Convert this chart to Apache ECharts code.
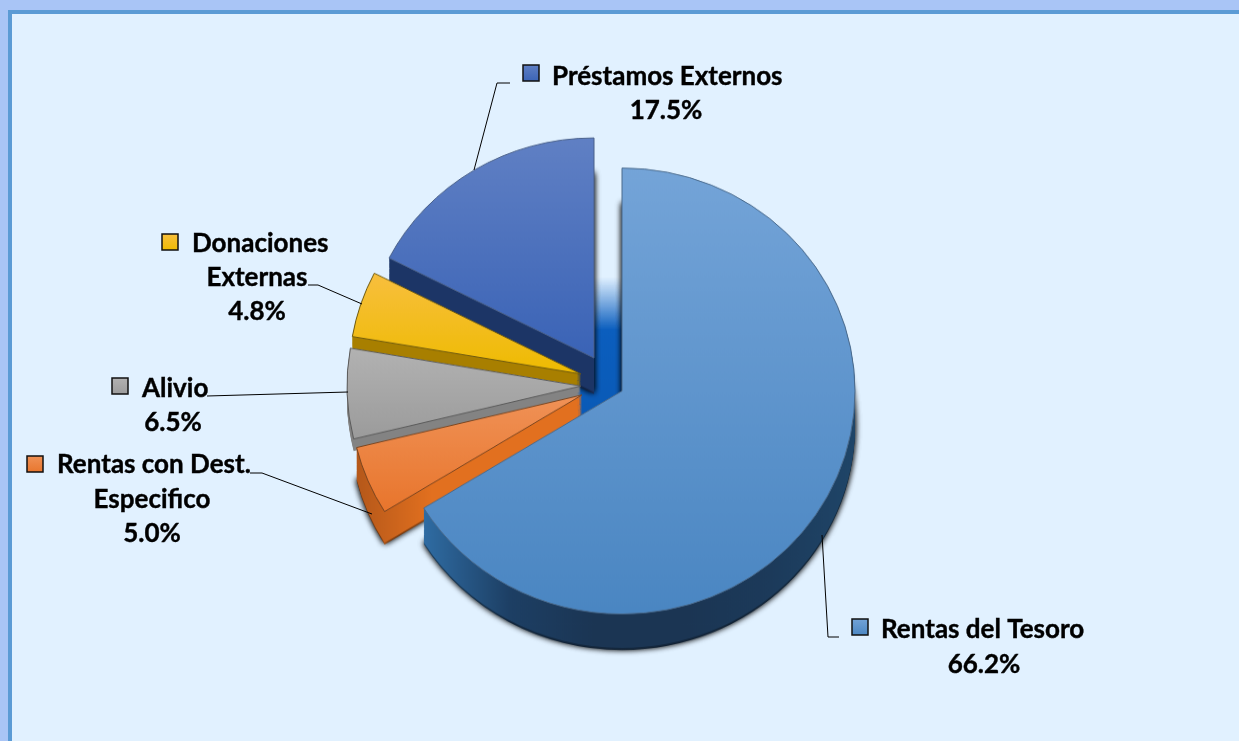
<!DOCTYPE html>
<html lang="es">

<head>
    <meta charset="UTF-8">
    <title>Fuentes de financiamiento</title>
    <style>
        * {
            margin: 0;
            padding: 0;
            box-sizing: border-box;
        }

        html,
        body {
            width: 1239px;
            height: 741px;
            overflow: hidden;
            background: #a9c5f6;
        }

        .panel {
            position: absolute;
            left: 8px;
            top: 10px;
            width: 1240px;
            height: 740px;
            background: #e1f1ff;
            border: 4px solid #5b9bd5;
            border-bottom: 0;
            border-right: 0;
        }

        /* the pie in the picture is a slightly flattened circle */
        #pie {
            position: absolute;
            left: 0;
            top: 0;
            width: 1239px;
            height: 774px;
            transform: scaleY(0.957);
            transform-origin: 0 0;
        }

        #labels {
            position: absolute;
            left: 0;
            top: 0;
            width: 1239px;
            height: 741px;
        }
    </style>
</head>

<body>
    <div class="panel"></div>
    <div id="pie"></div>
    <div id="labels"></div>
    <script src="https://cdn.jsdelivr.net/npm/echarts@6/dist/echarts.min.js"></script>
    <script>
        // data, clockwise from 12 o'clock
        var categories = ['Rentas del Tesoro', 'Rentas con Dest. Especifico', 'Alivio', 'Donaciones Externas', 'Préstamos Externos'];
        var values = [66.2, 5.0, 6.5, 4.8, 17.5];
        var labelLines = [
            ['Rentas del Tesoro'],
            ['Rentas con Dest.', 'Especifico'],
            ['Alivio'],
            ['Donaciones', 'Externas'],
            ['Préstamos Externos']
        ];

        // look of each slice, same order as categories
        var topColors = [
            ['#74a4d8', '#4a86c2'],
            ['#f09257', '#e8752c'],
            ['#b2b2b2', '#9b9b9b'],
            ['#f8bf3e', '#eebb00'],
            ['#6080c4', '#3a63b6']
        ];
        var wallColors = [
            ['#2f6ca3', '#1d3f64', '#1b3553', '#1b3553', '#1c3a5a', '#1f4568'],
            ['#b5581a', '#e2701f', '#e2701f', '#e2701f'],
            ['#838383', '#838383', '#838383', '#838383'],
            ['#a87f00', '#a87f00', '#a87f00', '#a87f00'],
            ['#1c3566', '#1c3566', '#1c3566', '#1c3566']
        ];
        var borderColors = ['#4a6a8c', '#7a4520', '#5a5a5a', '#6e5a10', '#4a6088'];
        var centers = [[622, 391], [582, 395], [581, 386], [581, 374], [594, 358]];
        var radii = [233, 232, 234, 232, 230];
        var depths = [36, 33, 12, 12, 36];
        var drawOrder = [4, 3, 2, 1, 0];

        // label placing: [x, centre y, align] per text line, percent line last
        var labelPos = [
            [[881, 630, 'left'], [984, 665, 'center']],
            [[57, 465, 'left'], [152, 500, 'center'], [152, 534, 'center']],
            [[142, 389, 'left'], [173, 423, 'center']],
            [[192, 244, 'left'], [257, 278, 'center'], [257, 312, 'center']],
            [[552, 77, 'left'], [666, 111, 'center']]
        ];
        var keyPos = [[852, 619], [27, 456], [112, 378], [162, 234], [523, 65]];
        var leaders = [
            [[822, 535], [828, 637], [839, 637]],
            [[372, 514], [262, 473], [250, 473]],
            [[348, 392], [207, 396]],
            [[362, 304], [318, 285], [308, 285]],
            [[474, 170], [497, 83], [510, 83]]
        ];

        var squash = 0.957;
        var total = values.reduce(function (a, b) { return a + b; }, 0);

        function vGrad(stops) {
            return {
                type: 'linear', x: 0, y: 0, x2: 0, y2: 1,
                colorStops: stops.map(function (c, i) {
                    return { offset: i / (stops.length - 1), color: c };
                })
            };
        }

        function hGrad(stops) {
            return {
                type: 'linear', x: 0, y: 0, x2: 1, y2: 0,
                colorStops: stops.map(function (c, i) {
                    return { offset: i / (stops.length - 1), color: c };
                })
            };
        }

        // one pie per slice so every slice can have its own centre
        function slicePie(i, dy, style, z) {
            var before = 0;
            for (var k = 0; k < i; k++) before += values[k];
            return {
                type: 'pie',
                silent: true,
                z: z,
                animation: false,
                clockwise: true,
                startAngle: 90 - before / total * 360,
                radius: radii[i],
                center: [centers[i][0], (centers[i][1] + dy) / squash],
                label: { show: false },
                labelLine: { show: false },
                emphasis: { disabled: true },
                data: [
                    { name: categories[i], value: values[i], itemStyle: style },
                    { name: '', value: total - values[i], itemStyle: { color: 'transparent', borderWidth: 0 } }
                ]
            };
        }

        var series = [];
        var z = 10;
        drawOrder.forEach(function (i) {
            // side wall: the same slice repeated downwards, deepest first
            for (var dy = depths[i]; dy > 0; dy--) {
                var wall = { color: hGrad(wallColors[i]), borderWidth: 0 };
                // soft shadow only under the deep slices
                if (dy > depths[i] - 3 && depths[i] > 20) {
                    wall.shadowBlur = 6;
                    wall.shadowColor = 'rgba(0,0,0,0.6)';
                }
                series.push(slicePie(i, dy, wall, z++));
            }
            series.push(slicePie(i, 0, {
                color: vGrad(topColors[i]),
                borderColor: borderColors[i],
                borderWidth: 1
            }, z++));
        });

        var pie = echarts.init(document.getElementById('pie'), null, { renderer: 'canvas' });
        pie.setOption({
            backgroundColor: 'transparent',
            animation: false,
            // blue inside face seen in the gap behind the pulled out slices
            graphic: [{
                type: 'polygon',
                z: 1,
                silent: true,
                shape: {
                    points: [[570, 385], [590, 385], [590, 277], [622, 277], [622, 392], [570, 423]].map(function (p) {
                        return [p[0], p[1] / squash];
                    })
                },
                style: {
                    fill: {
                        type: 'linear', x: 0, y: 0, x2: 0, y2: 1,
                        colorStops: [
                            { offset: 0, color: 'rgba(11,94,190,0)' },
                            { offset: 0.2, color: 'rgba(11,94,190,0.55)' },
                            { offset: 0.36, color: '#0b5ebe' },
                            { offset: 1, color: '#0a5ab6' }
                        ]
                    }
                }
            }],
            series: series
        });

        // texts, keys and leader lines
        var font = 'bold 26px Lato, "Noto Sans", sans-serif';
        var graphics = [];
        categories.forEach(function (name, i) {
            var lines = labelLines[i].concat([values[i].toFixed(1) + '%']);
            lines.forEach(function (txt, j) {
                var p = labelPos[i][j];
                graphics.push({
                    type: 'text',
                    x: p[0],
                    y: p[1],
                    style: {
                        text: txt,
                        font: font,
                        fill: '#000',
                        stroke: '#000',
                        lineWidth: 0.4,
                        align: p[2],
                        verticalAlign: 'middle'
                    }
                });
            });
            graphics.push({
                type: 'rect',
                shape: { x: keyPos[i][0], y: keyPos[i][1], width: 16, height: 16 },
                style: { fill: vGrad(topColors[i]), stroke: '#111', lineWidth: 1.5 }
            });
            graphics.push({
                type: 'polyline',
                shape: { points: leaders[i] },
                style: { fill: null, stroke: '#000', lineWidth: 1 }
            });
        });

        var labels = echarts.init(document.getElementById('labels'));
        labels.setOption({
            backgroundColor: 'transparent',
            animation: false,
            graphic: graphics
        });
    </script>
</body>

</html>
